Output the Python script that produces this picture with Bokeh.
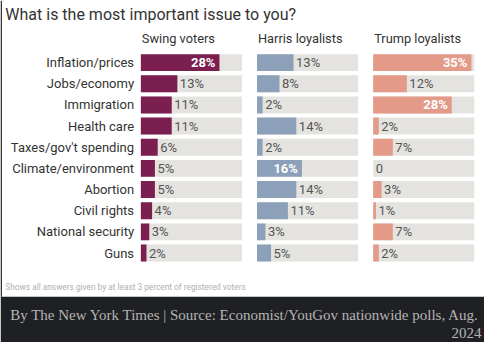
from bokeh.plotting import figure
from bokeh.models import Range1d, ColumnDataSource
from bokeh.core.properties import value
from bokeh.embed import file_html
from bokeh.resources import INLINE

# ---- data ----
issues = ["Inflation/prices", "Jobs/economy", "Immigration", "Health care",
          "Taxes/gov't spending", "Climate/environment", "Abortion",
          "Civil rights", "National security", "Guns"]
swing = [28, 13, 11, 11, 6, 5, 5, 4, 3, 2]
harris = [13, 8, 2, 14, 2, 16, 14, 11, 3, 5]
trump = [35, 12, 28, 2, 7, 0, 3, 1, 7, 2]
groups = ["Swing voters", "Harris loyalists", "Trump loyalists"]
series = [swing, harris, trump]
colors = ["#7a1f4f", "#8da0b9", "#e39a89"]

title = "What is the most important issue to you?"
note = "Shows all answers given by at least 3 percent of registered voters"
credit1 = "By The New York Times | Source: Economist/YouGov nationwide polls, Aug."
credit2 = "2024"

# ---- layout (reference pixel space 500x358 mapped onto 484x342) ----
W, H = 484, 342
RW, RH = 500, 358
s = W / RW
ROW0, PITCH = 65.0, 22.15
PX_PER = 2.9
BG_MAX = 36
LEFTS = [145, 265, 385]
BAR_H = 0.8
SANS = value("Roboto")
SERIF = value("Liberation Serif")

p = figure(width=W, height=H, x_range=Range1d(0, RW), y_range=Range1d(RH, 0),
           output_backend="svg", toolbar_location=None, min_border=0,
           x_axis_location=None, y_axis_location=None)
p.grid.visible = False
p.outline_line_color = None
p.background_fill_color = "white"
p.border_fill_color = "white"

p.extra_y_ranges = {"rows": Range1d((RH - ROW0) / PITCH, -ROW0 / PITCH)}
for k, L in enumerate(LEFTS):
    p.extra_x_ranges["g%d" % k] = Range1d(-L / PX_PER, (RW - L) / PX_PER)

idx = list(range(len(issues)))

# footer band and left edge
p.quad(left=[0], right=[RW], top=[310], bottom=[RH], color="#1f2023", line_color=None)
p.quad(left=[0], right=[1.5], top=[0], bottom=[310], color="#2a2a2a", line_color=None)

# title / headers / note
p.text(x=[5], y=[15], text=[title], text_font=SANS, text_font_size="%.1fpx" % (16.5 * s),
       text_color="#333333", text_baseline="middle", text_align="left")
for k, L in enumerate(LEFTS):
    p.text(x=[L + 1], y=[40], text=[groups[k]], text_font=SANS,
           text_font_size="%.1fpx" % (13.2 * s), text_color="#333333",
           text_baseline="middle", text_align="left")
p.text(x=[5], y=[300], text=[note], text_font=SANS, text_font_size="%.1fpx" % (8.6 * s),
       text_color="#b0b0b0", text_baseline="middle", text_align="left")

# category labels
p.text(x=[138] * len(issues), y=idx, text=issues, y_range_name="rows",
       text_font=SANS, text_font_size="%.1fpx" % (13.4 * s), text_color="#333333",
       text_baseline="middle", text_align="right")

# bars
for k, vals in enumerate(series):
    xr = "g%d" % k
    p.hbar(y=idx, left=0, right=[BG_MAX] * len(idx), height=BAR_H, color="#e4e3df",
           line_color=None, x_range_name=xr, y_range_name="rows")
    p.hbar(y=idx, left=0, right=vals, height=BAR_H, color=colors[k],
           line_color=None, x_range_name=xr, y_range_name="rows")
    labs = [("%d%%" % v) if v > 0 else "0" for v in vals]
    inside = [i for i, v in enumerate(vals) if v > 15]
    outside = [i for i, v in enumerate(vals) if v <= 15]
    src_out = ColumnDataSource(dict(x=[vals[i] for i in outside], y=[idx[i] for i in outside],
                                    t=[labs[i] for i in outside]))
    src_in = ColumnDataSource(dict(x=[vals[i] for i in inside], y=[idx[i] for i in inside],
                                   t=[labs[i] for i in inside]))
    p.text(x="x", y="y", text="t", source=src_out, x_range_name=xr, y_range_name="rows",
           x_offset=2.5, text_font=SANS, text_font_size="%.1fpx" % (13.4 * s),
           text_color="#555555", text_baseline="middle", text_align="left")
    p.text(x="x", y="y", text="t", source=src_in, x_range_name=xr, y_range_name="rows",
           x_offset=-4, text_font=SANS, text_font_size="%.1fpx" % (13.4 * s),
           text_font_style="bold", text_color="white",
           text_baseline="middle", text_align="right")

# credit
p.text(x=[10], y=[329], text=[credit1], text_font=SERIF,
       text_font_size="%.1fpx" % (15.5 * s), text_color="#b4b4b4",
       text_baseline="middle", text_align="left")
p.text(x=[497], y=[348], text=[credit2], text_font=SERIF,
       text_font_size="%.1fpx" % (15.5 * s), text_color="#b4b4b4",
       text_baseline="middle", text_align="right")

open("out.html", "w").write(file_html(p, INLINE))
